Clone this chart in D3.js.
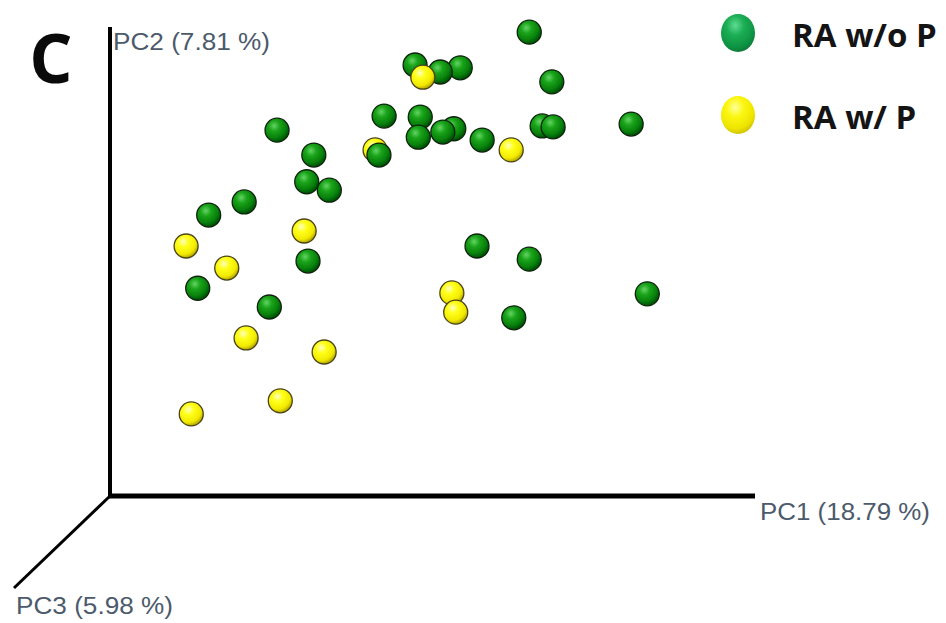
<!DOCTYPE html>
<meta charset="utf-8">
<head>
    <script src="https://d3js.org/d3.v7.min.js"></script>
    <style>
        body {
          margin: 0;
          background: #fff;
          font-family: "Liberation Sans", Arial, sans-serif;
        }
    </style>
</head>
<body>
    <svg></svg>

    <script>

        // Data: positions of each sample in the projected PCoA view (0-100 along each drawn axis)
        var groups = ["RA w/o P", "RA w/ P"];
        var axisLabels = ["PC1 (18.79 %)", "PC2 (7.81 %)", "PC3 (5.98 %)"];

        var greenPC1 = [65.0, 47.3, 51.2, 54.3, 68.5, 42.5, 48.1, 47.8, 51.6, 53.3, 57.7, 67.0, 68.7, 80.8,
                        25.9, 31.6, 41.7, 30.5, 34.0, 20.8, 15.3, 30.7, 56.9, 65.0, 13.6, 24.7, 62.6, 83.3];
        var greenPC2 = [98.9, 91.9, 90.4, 91.3, 88.3, 81.0, 80.8, 76.5, 77.6, 78.3, 75.9, 78.9, 78.7, 79.3,
                        78.0, 72.7, 72.7, 67.0, 65.2, 62.7, 59.9, 50.1, 53.3, 50.5, 44.3, 40.3, 38.0, 43.1];

        var yellowPC1 = [48.5, 62.2, 41.1, 11.8, 30.1, 18.1, 53.0, 53.6, 21.1, 33.2, 26.4, 12.6];
        var yellowPC2 = [89.3, 73.8, 73.8, 53.3, 56.5, 48.6, 43.3, 39.2, 33.7, 30.7, 20.3, 17.5];

        // Variables
        var width = 946;
        var height = 623;
        var radius = 12;

        var svg = d3.select('svg')
            .attr('width', width)
            .attr('height', height);

        // Scales: PC1 runs right, PC2 runs up, PC3 runs down-left
        var x = d3.scaleLinear().domain([0, 100]).range([110, 755]);
        var y = d3.scaleLinear().domain([0, 100]).range([496, 27]);
        var zx = d3.scaleLinear().domain([0, 100]).range([110, 14]);
        var zy = d3.scaleLinear().domain([0, 100]).range([496, 588]);

        // Sphere shading
        var defs = svg.append('defs');

        function sphereGradient(id, stops, cx, cy) {
            var g = defs.append('radialGradient')
                .attr('id', id)
                .attr('cx', cx).attr('cy', cy).attr('r', '75%')
                .attr('fx', cx).attr('fy', cy);
            stops.forEach(function (s) {
                g.append('stop').attr('offset', s[0]).attr('stop-color', s[1]);
            });
        }

        sphereGradient('green', [['0%', '#63d463'], ['30%', '#1ba41b'], ['65%', '#07820a'], ['100%', '#024002']], '38%', '32%');
        sphereGradient('yellow', [['0%', '#ffffc0'], ['30%', '#ffff1a'], ['70%', '#f2ea00'], ['100%', '#9c8c00']], '38%', '32%');
        sphereGradient('legGreen', [['0%', '#5fdc92'], ['35%', '#1cae55'], ['75%', '#0e9444'], ['100%', '#0a7434']], '42%', '30%');
        sphereGradient('legYellow', [['0%', '#ffff9a'], ['35%', '#fbf610'], ['75%', '#eee400'], ['100%', '#c8ba00']], '42%', '30%');

        defs.append('filter').attr('id', 'soft')
            .append('feGaussianBlur').attr('stdDeviation', 0.6);

        // Axes
        var axes = svg.append('g').attr('stroke', '#000').attr('stroke-linecap', 'butt');

        axes.append('line')
            .attr('x1', x(0)).attr('y1', y(0))
            .attr('x2', x(0)).attr('y2', y(100))
            .attr('stroke-width', 4);

        axes.append('line')
            .attr('x1', x(0) - 2).attr('y1', y(0))
            .attr('x2', x(100)).attr('y2', y(0))
            .attr('stroke-width', 5);

        axes.append('line')
            .attr('x1', zx(0)).attr('y1', zy(0))
            .attr('x2', zx(100)).attr('y2', zy(100))
            .attr('stroke-width', 3);

        // Axis labels
        var labelPos = [
            [x(100) + 5, y(0) + 24, 170],
            [x(0) + 3, y(100) + 23, 157],
            [zx(100) + 2, zy(100) + 26, 157]
        ];

        svg.selectAll('.axis-label')
            .data(axisLabels)
            .enter().append('text')
            .attr('class', 'axis-label')
            .attr('x', function (d, i) { return labelPos[i][0]; })
            .attr('y', function (d, i) { return labelPos[i][1]; })
            .attr('textLength', function (d, i) { return labelPos[i][2]; })
            .attr('lengthAdjust', 'spacingAndGlyphs')
            .style('font-size', '23px')
            .style('fill', '#4c5a6b')
            .text(function (d) { return d; });

        // Panel letter
        svg.append('text')
            .attr('x', 51).attr('y', 83)
            .attr('text-anchor', 'middle')
            .style('font-family', '"Open Sans", sans-serif')
            .style('font-weight', 700)
            .style('font-size', '68px')
            .style('fill', '#0a0a0a')
            .text('C');

        // Points: build one list, draw back to front (higher on screen is further back)
        var points = [];
        greenPC1.forEach(function (v, i) { points.push({ pc1: v, pc2: greenPC2[i], group: 0 }); });
        yellowPC1.forEach(function (v, i) { points.push({ pc1: v, pc2: yellowPC2[i], group: 1 }); });
        points.sort(function (a, b) { return b.pc2 - a.pc2; });

        svg.append('g')
            .attr('filter', 'url(#soft)')
            .selectAll('circle')
            .data(points)
            .enter().append('circle')
            .attr('cx', function (d) { return x(d.pc1); })
            .attr('cy', function (d) { return y(d.pc2); })
            .attr('r', radius)
            .attr('fill', function (d) { return d.group ? 'url(#yellow)' : 'url(#green)'; })
            .attr('stroke', function (d) { return d.group ? '#4a4418' : '#10240f'; })
            .attr('stroke-width', 1.3);

        // Legend
        var legend = svg.selectAll('.legend')
            .data(groups)
            .enter().append('g')
            .attr('class', 'legend')
            .attr('transform', function (d, i) { return 'translate(738,' + (33 + i * 82) + ')'; });

        legend.append('ellipse')
            .attr('rx', 17).attr('ry', 19)
            .attr('filter', 'url(#soft)')
            .attr('fill', function (d, i) { return i ? 'url(#legYellow)' : 'url(#legGreen)'; });

        legend.append('text')
            .attr('x', 54).attr('y', 14)
            .style('font-family', '"Open Sans", sans-serif')
            .style('font-weight', 700)
            .style('font-size', '33px')
            .style('fill', '#141414')
            .text(function (d) { return d; });

    </script>
</body>
</html>
